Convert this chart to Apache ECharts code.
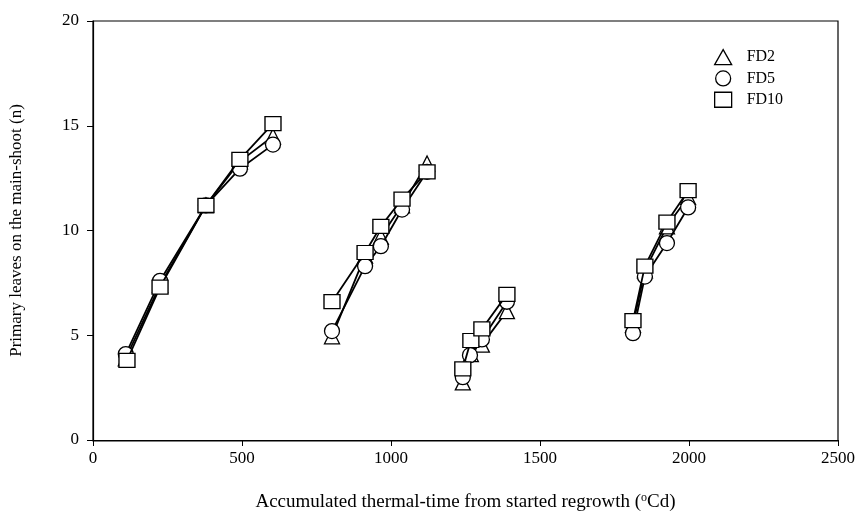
<!DOCTYPE html>
<html><head><meta charset="utf-8">
<script src="https://cdn.jsdelivr.net/npm/echarts@6/dist/echarts.min.js"></script>
<style>html,body{margin:0;padding:0;background:#fff}#c{width:864px;height:517px}</style>
</head><body><div id="c"></div>
<script>
// Data: each series is a list of [thermal-time, leaves]; '-' breaks the line between regrowth cycles
var fd2X = [110, 225, 379, 493, 604, '-', 802, 913, 966, 1037, 1121, '-', 1241, 1268, 1305, 1389, '-', 1812, 1852, 1926, 1997];
var fd2Y = [3.9, 7.4, 11.2, 13.3, 14.5, '-', 4.95, 8.8, 9.7, 11.2, 13.2, '-', 2.75, 4.1, 4.55, 6.15, '-', 5.5, 8.1, 10.2, 11.6];
var fd5X = [110, 225, 379, 493, 604, '-', 802, 913, 966, 1037, 1121, '-', 1241, 1265, 1305, 1389, '-', 1812, 1852, 1926, 1997];
var fd5Y = [4.1, 7.6, 11.2, 12.95, 14.1, '-', 5.2, 8.3, 9.25, 11.0, 12.8, '-', 3.0, 4.05, 4.8, 6.6, '-', 5.1, 7.8, 9.4, 11.1];
var fd10X = [114, 225, 379, 493, 604, '-', 802, 913, 966, 1037, 1121, '-', 1241, 1268, 1305, 1389, '-', 1812, 1852, 1926, 1997];
var fd10Y = [3.8, 7.3, 11.2, 13.4, 15.1, '-', 6.6, 8.95, 10.2, 11.5, 12.8, '-', 3.4, 4.75, 5.3, 6.95, '-', 5.7, 8.3, 10.4, 11.9];
var xTicks = [0, 500, 1000, 1500, 2000, 2500];
var yTicks = [0, 5, 10, 15, 20];
var seriesNames = ['FD2', 'FD5', 'FD10'];

function pairs(xs, ys) {
  return xs.map(function (x, i) { return x === '-' ? '-' : [x, ys[i]]; });
}
var font = 'Liberation Serif';
var chart = echarts.init(document.getElementById('c'));
var common = {
  type: 'line', connectNulls: false,
  lineStyle: { color: '#000', width: 1.8 },
  itemStyle: { color: '#fff', borderColor: '#000', borderWidth: 1.3 },
  emphasis: { disabled: true }, animation: false
};
var legendItem = { color: '#fff', borderColor: '#000', borderWidth: 1.3 };
chart.setOption({
  animation: false,
  backgroundColor: '#fff',
  grid: { left: 93, right: 26, top: 21, bottom: 76 },
  legend: {
    left: 709, top: 44, orient: 'vertical', itemGap: 5, itemWidth: 17, itemHeight: 15,
    textStyle: { fontFamily: font, fontSize: 16, color: '#000', padding: [0, 0, 0, 10] },
    data: [
      { name: seriesNames[0], icon: 'triangle', itemStyle: legendItem },
      { name: seriesNames[1], icon: 'circle', itemStyle: legendItem },
      { name: seriesNames[2], icon: 'rect', itemStyle: legendItem }
    ]
  },
  xAxis: {
    type: 'value', min: 0, max: 2500, interval: 500,
    name: 'Accumulated thermal-time from started regrowth ({s|o}Cd)',
    nameLocation: 'middle', nameGap: 52,
    nameTextStyle: { fontFamily: font, fontSize: 19, color: '#000',
      rich: { s: { fontFamily: font, fontSize: 12, verticalAlign: 'top', padding: [0, 0, 9, 0], color: '#000' } } },
    axisLine: { lineStyle: { color: '#000', width: 1.2 } },
    axisTick: { inside: false, length: 6, lineStyle: { color: '#000' } },
    axisLabel: { fontFamily: font, fontSize: 17, color: '#000', margin: 10,
      formatter: function (v) { return xTicks.indexOf(v) >= 0 ? String(v) : ''; } },
    splitLine: { show: false }
  },
  yAxis: {
    type: 'value', min: 0, max: 20, interval: 5,
    name: 'Primary leaves on the main-shoot (n)',
    nameLocation: 'middle', nameGap: 68,
    nameTextStyle: { fontFamily: font, fontSize: 17, color: '#000' },
    axisLine: { lineStyle: { color: '#000', width: 1.2 } },
    axisTick: { inside: false, length: 6, lineStyle: { color: '#000' } },
    axisLabel: { fontFamily: font, fontSize: 17, color: '#000', margin: 14,
      formatter: function (v) { return yTicks.indexOf(v) >= 0 ? String(v) : ''; } },
    splitLine: { show: false }
  },
  graphic: [{
    type: 'rect', silent: true, z: 0,
    shape: { x: 93, y: 21, width: 745, height: 420 },
    style: { fill: 'none', stroke: '#000', lineWidth: 1.2 }
  }],
  series: [
    Object.assign({}, common, { name: seriesNames[0], symbol: 'triangle', symbolSize: 15, z: 2, data: pairs(fd2X, fd2Y) }),
    Object.assign({}, common, { name: seriesNames[1], symbol: 'circle', symbolSize: 15, z: 3, data: pairs(fd5X, fd5Y) }),
    Object.assign({}, common, { name: seriesNames[2], symbol: 'rect', symbolSize: [16, 14], z: 4, data: pairs(fd10X, fd10Y) })
  ]
});
</script></body></html>
